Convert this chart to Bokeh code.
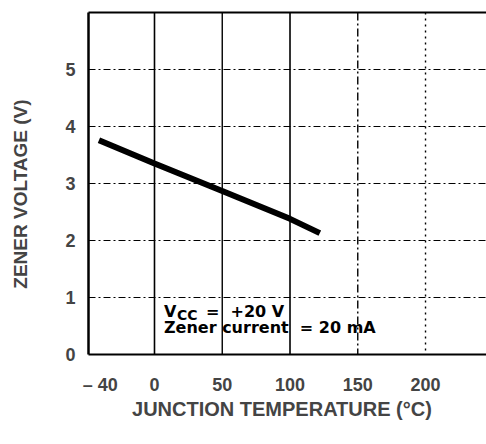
from bokeh.plotting import figure
from bokeh.models import Span, Label, LinearAxis, FixedTicker, Range1d
from bokeh.embed import file_html
from bokeh.resources import INLINE

# ---- data ----
temp_c = [-41, 0, 50, 100, 122]
zener_v = [3.76, 3.35, 2.87, 2.38, 2.13]

x_ticks = [-40, 0, 50, 100, 150, 200]
x_tick_labels = {-40: "\u2013 40"}
y_ticks = [0, 1, 2, 3, 4, 5]

v_grid = [0, 50, 100, 150, 200]
h_grid = [1, 2, 3, 4, 5]

FONT = "Liberation Sans"
ANN_FONT = "DejaVu Sans"
NB = "\u00a0"

p = figure(width=486, height=444,
           x_range=Range1d(-48.7, 245), y_range=Range1d(0, 6),
           output_backend="svg", toolbar_location=None,
           min_border_left=88, min_border_right=0,
           min_border_top=12, min_border_bottom=90)
p.outline_line_color = None
p.xgrid.grid_line_color = None
p.ygrid.grid_line_color = None
p.background_fill_color = "white"

# vertical grid lines, styled like the scanned datasheet
v_styles = {0: ("solid", 1.6), 50: ("solid", 1.4), 100: ("solid", 1.6),
            150: ("8 3 2 3", 1.4), 200: ("2 4", 1.4)}
for gx in v_grid:
    dash, w = v_styles[gx]
    p.add_layout(Span(location=gx, dimension="height", line_color="black",
                      line_width=w, line_dash=dash))
for gy in h_grid:
    p.add_layout(Span(location=gy, dimension="width", line_color="black",
                      line_width=1, line_dash="7 3 2 3"))

# the characteristic curve
p.line(temp_c, zener_v, line_color="black", line_width=6, line_cap="butt")

# axes
xa = p.xaxis[0]
xa.ticker = FixedTicker(ticks=x_ticks)
xa.major_label_overrides = x_tick_labels
xa.axis_line_width = 2
xa.major_tick_out = 0
xa.major_tick_in = 0
xa.minor_tick_out = 0
xa.minor_tick_in = 0
xa.major_label_standoff = 20
xa.major_label_text_font = FONT
xa.major_label_text_font_style = "bold"
xa.major_label_text_font_size = "18px"
xa.axis_label = "JUNCTION TEMPERATURE (\u00b0C)" + NB + NB
xa.axis_label_text_font = FONT
xa.axis_label_text_font_style = "bold"
xa.axis_label_text_font_size = "20px"
xa.axis_label_standoff = 0

ya = p.yaxis[0]
ya.ticker = FixedTicker(ticks=y_ticks)
ya.axis_line_width = 2.5
ya.major_tick_out = 0
ya.major_tick_in = 0
ya.minor_tick_out = 0
ya.minor_tick_in = 0
ya.major_label_standoff = 13
ya.major_label_text_font = FONT
ya.major_label_text_font_style = "bold"
ya.major_label_text_font_size = "18px"
ya.axis_label = "ZENER VOLTAGE (V)" + NB * 4
ya.axis_label_text_font = FONT
ya.axis_label_text_font_style = "bold"
ya.axis_label_text_font_size = "19px"
ya.axis_label_standoff = 31

top = LinearAxis(ticker=FixedTicker(ticks=[]), axis_line_width=2,
                 major_tick_out=0, major_tick_in=0,
                 minor_tick_out=0, minor_tick_in=0,
                 major_label_text_font_size="0px", major_label_standoff=0)
p.add_layout(top, "above")

# annotation text
ann_x, ann_y1, ann_y2 = 7, 0.755, 0.475
common = dict(text_font=ANN_FONT, text_color="black",
              text_baseline="alphabetic", text_font_style="bold")
p.add_layout(Label(x=ann_x, y=ann_y1, text="V", text_font_size="16px", **common))
p.add_layout(Label(x=ann_x, y=ann_y1, x_offset=13, y_offset=-4, text="CC",
                   text_font_size="14px", **common))
p.add_layout(Label(x=ann_x, y=ann_y1, x_offset=42,
                   text="=" + NB + NB + "+20 V",
                   text_font_size="16px", **common))
p.add_layout(Label(x=ann_x, y=ann_y2,
                   text="Zener current" + NB + " =" + NB + "20 mA",
                   text_font_size="16px", **common))

open("out.html", "w").write(file_html(p, INLINE))
